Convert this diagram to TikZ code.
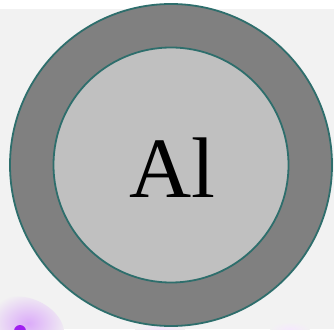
\documentclass[tikz,border=0pt]{standalone}
\usepackage{fontspec}
\setmainfont{Liberation Serif}
\definecolor{bgray}{HTML}{F2F2F2}
\definecolor{ringgray}{HTML}{808080}
\definecolor{coregray}{HTML}{C0C0C0}
\definecolor{edgeteal}{HTML}{2E6E6C}
\definecolor{glowpurple}{HTML}{A020F0}
\tikzset{
  shell/.style={circle, draw=edgeteal, line width=1.8pt, inner sep=0pt},
  label/.style={font=\fontsize{86}{86}\selectfont, text=black, inner sep=0pt, anchor=base}
}
\begin{document}
\begin{tikzpicture}[x=1pt,y=1pt]
\useasboundingbox (0,0) rectangle (334,329);
\fill[white] (0,0) rectangle (334,329);
\fill[bgray] (0,0) rectangle (334,320);
\begin{scope}
\clip (0,0) rectangle (334,329);
\shade[inner color=glowpurple!38, outer color=bgray, rotate around={-25:(28,4)}] (28,4) ellipse (38 and 26);
\shade[inner color=glowpurple!12, outer color=bgray] (160,0) ellipse (25 and 8);
\shade[inner color=glowpurple!10, outer color=bgray] (290,0) ellipse (20 and 7);
\fill[glowpurple] (20,-2) circle (6);
\end{scope}
\node[shell, fill=ringgray, minimum size=322pt] (outer) at (171,164) {};
\node[shell, fill=coregray, minimum size=235pt] (inner) at (171,164) {};
\node[label] (al) at (172,131) {Al};
\end{tikzpicture}
\end{document}
